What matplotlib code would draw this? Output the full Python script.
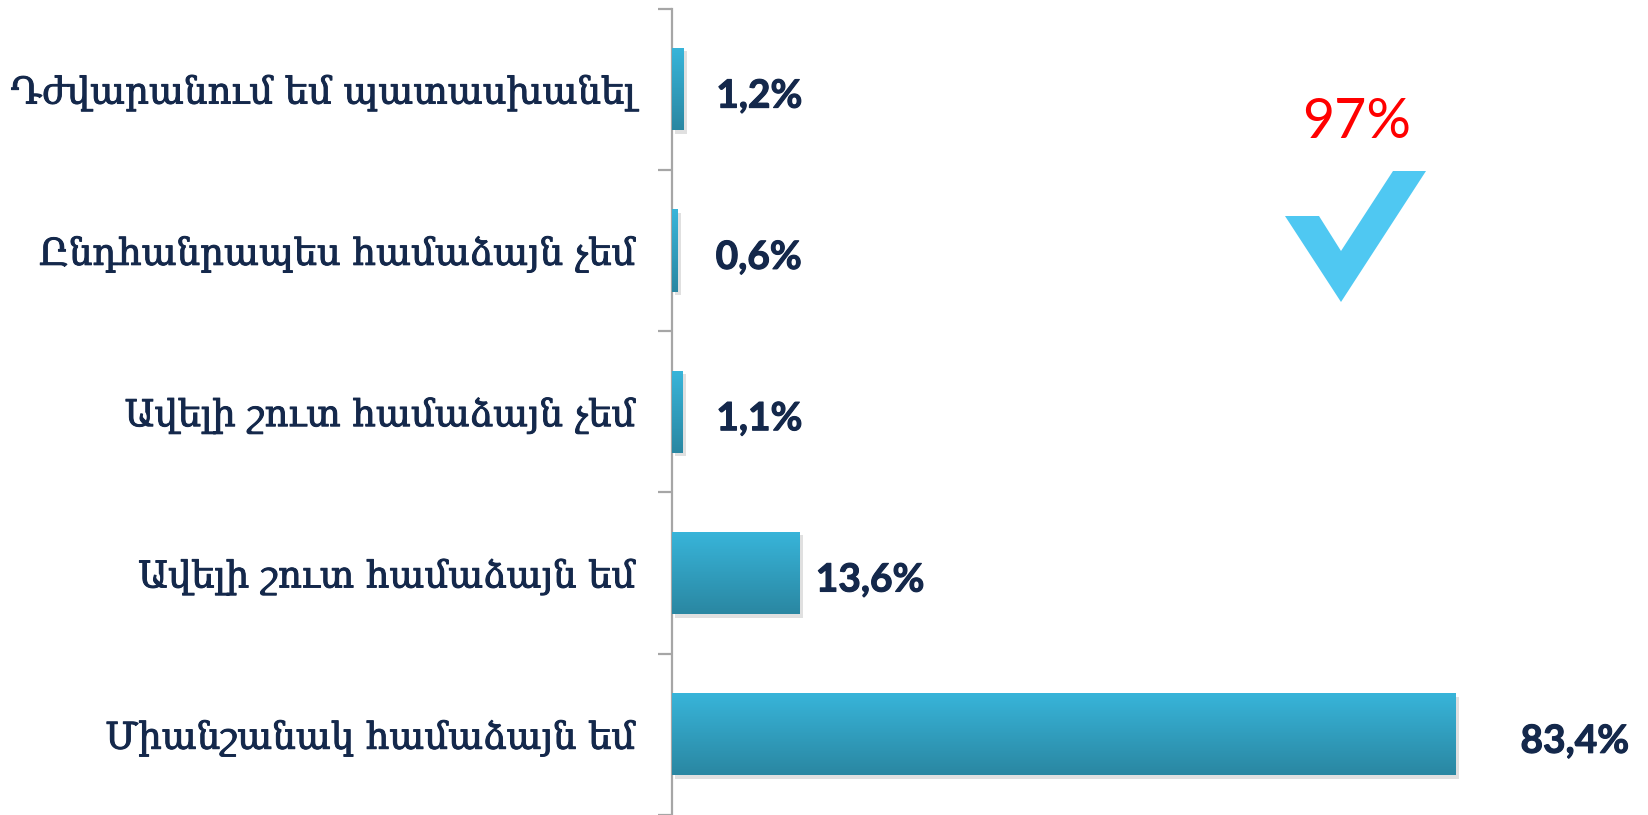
import matplotlib
matplotlib.use("Agg")
import matplotlib.pyplot as plt
import numpy as np
from matplotlib.colors import LinearSegmentedColormap
from matplotlib.patches import Polygon
import matplotlib.patheffects as pe

categories = [
    "Դժվարանում եմ պատասխանել",
    "Ընդհանրապես համաձայն չեմ",
    "Ավելի շուտ համաձայն չեմ",
    "Ավելի շուտ համաձայն եմ",
    "Միանշանակ համաձայն եմ",
]
values = [1.2, 0.6, 1.1, 13.6, 83.4]
value_labels = ["1,2%", "0,6%", "1,1%", "13,6%", "83,4%"]
total_label = "97%"

# style: horizontal offset (pixels) of value labels from bar ends
label_offsets_px = [33, 38, 34, 16, 65]

W, H = 1649, 815
fig = plt.figure(figsize=(W / 100, H / 100), dpi=100)
fig.patch.set_facecolor("white")

ax_left = 672 / W
ax_top = 1 - 8.5 / H
ax = fig.add_axes([ax_left, 0.0, 1 - ax_left, ax_top])

n = len(categories)
ypos = np.arange(n)[::-1]  # first category at top
bar_h = 0.51

cmap = LinearSegmentedColormap.from_list("g", ["#38b5da", "#2a87a2"])
grad = np.linspace(0, 1, 128).reshape(-1, 1)

bars = ax.barh(ypos, values, height=bar_h, color="#33a7c9", zorder=2,
               path_effects=[pe.SimplePatchShadow(offset=(2.5, -2.5), shadow_rgbFace="#999999", alpha=0.3),
                             pe.Normal()])
for b in bars:
    x0, y0 = b.get_x(), b.get_y()
    w, h = b.get_width(), b.get_height()
    im = ax.imshow(grad, extent=(x0, x0 + w, y0, y0 + h), origin="upper",
                   aspect="auto", cmap=cmap, zorder=3, interpolation="bilinear")
    im.set_clip_path(b)

ax.set_xlim(0, 104)
ax.set_ylim(-0.5, n - 0.5)

# value labels
for b, lab, off in zip(bars, value_labels, label_offsets_px):
    ax.annotate(lab, xy=(b.get_width(), b.get_y() + b.get_height() / 2),
                xytext=(off * 0.72, -5), textcoords="offset points",
                ha="left", va="center", fontsize=28, fontweight="bold",
                family=["Lato", "DejaVu Sans"], color="#14284b",
                path_effects=[pe.withStroke(linewidth=0.8, foreground="#14284b")])

# axes styling
for s in ["top", "right", "bottom"]:
    ax.spines[s].set_visible(False)
ax.spines["left"].set_color("#a6a6a6")
ax.spines["left"].set_linewidth(1.6)
ax.set_xticks([])
ax.set_yticks(np.arange(-0.5, n, 1.0))
ax.set_yticklabels([])
ax.tick_params(axis="y", which="major", length=10, width=1.6, color="#a6a6a6", direction="out")
ax.set_yticks(ypos, minor=True)
ax.set_yticklabels(categories, minor=True, family=["DejaVu Serif", "DejaVu Sans"],
                   fontsize=26.6, color="#14284b")
for t in ax.get_yticklabels(minor=True):
    t.set_path_effects([pe.withStroke(linewidth=0.7, foreground="#14284b")])
ax.tick_params(axis="y", which="minor", length=0, pad=27)

# 97% text and check mark (figure-space decoration)
fig.text(1357 / W, 1 - 122 / H, total_label, color="#ff0000", fontsize=40,
         family=["Lato", "DejaVu Sans"], ha="center", va="center")
check_px = [(1285, 216), (1319, 216), (1341, 251), (1393, 171),
            (1426, 171), (1341, 302)]
check = Polygon([(x / W, 1 - y / H) for x, y in check_px], closed=True,
                transform=fig.transFigure, facecolor="#4fc8f2", edgecolor="none")
fig.patches.append(check)

fig.savefig("out.png", dpi=100, facecolor="white")
